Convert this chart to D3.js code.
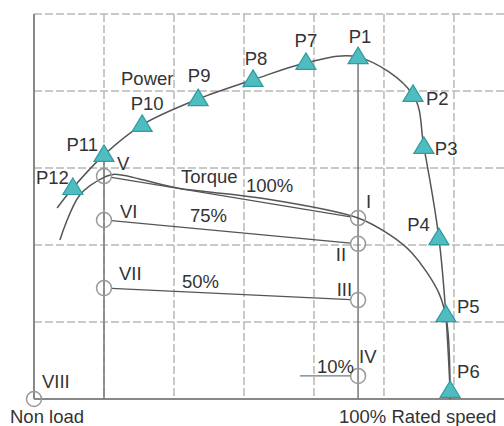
<!DOCTYPE html>
<html>
<head>
<meta charset="utf-8">
<script src="https://cdn.jsdelivr.net/npm/d3@7"></script>
<style>
  body { margin: 0; background: #fff; }
  text { font-family: "Liberation Sans", Arial, sans-serif; font-size: 18.5px; fill: #333; }
</style>
</head>
<body>
<svg id="chart" width="504" height="426"></svg>
<script>
// Grid positions (speed units / percent of full scale)
const gridX = [20, 40, 60, 80, 100, 120];
const gridY = [20, 40, 60, 80, 100];

// Power curve points P1..P12, ordered along the curve
const powerNames = ["", "P12", "P11", "P10", "P9", "P8", "P7", "P1", "P2", "P3", "P4", "P5", "P6"];
const powerX = [6.6, 11.1, 20.0, 30.9, 46.9, 62.6, 77.7, 92.6, 108.3, 111.4, 115.7, 117.7, 118.9];
const powerY = [49.6, 54.8, 63.4, 71.2, 77.9, 82.9, 87.3, 88.8, 79.0, 65.5, 41.8, 21.8, 2.1];

// Torque (100%) curve
const torqueX = [7.4, 13.1, 20.3, 23.1, 40.9, 64.6, 92.6, 101.7, 108, 115.7, 118, 118.9];
const torqueY = [41.3, 53.0, 57.7, 58.4, 54.8, 52.2, 47.0, 42.6, 37.9, 27.5, 19.7, 0];

// Load points (circles)
const loadNames = ["V", "VI", "VII", "VIII", "I", "II", "III", "IV"];
const loadX = [20, 20, 20, 0, 92.6, 92.6, 92.6, 92.6];
const loadY = [57.9, 46.5, 28.8, 0, 47.0, 40.3, 25.7, 6.0];

// Constant load lines: [from, to, label]
const loadLines = [["V", "I", ""], ["VI", "II", "75%"], ["VII", "III", "50%"]];
const tenPctStart = [76, 6.0];

const ratedSpeed = 92.6;

// ---- layout ----
const margin = { top: 14, right: 0, bottom: 27, left: 34 };
const W = 504, H = 426;
const svg = d3.select("#chart");

const x = d3.scaleLinear().domain([0, 134.3]).range([margin.left, W - margin.right]);
const y = d3.scaleLinear().domain([0, 100]).range([H - margin.bottom, margin.top]);

const gridColor = "#b8b8b8";
const lineColor = "#555";
const circleColor = "#999";

// dashed grid
svg.append("g").selectAll("line.gx")
  .data(gridX).enter().append("line")
  .attr("x1", d => x(d)).attr("x2", d => x(d))
  .attr("y1", y(100)).attr("y2", y(0))
  .attr("stroke", gridColor).attr("stroke-width", 1.5).attr("stroke-dasharray", "8,3");
svg.append("g").selectAll("line.gy")
  .data(gridY).enter().append("line")
  .attr("x1", x(0)).attr("x2", W)
  .attr("y1", d => y(d)).attr("y2", d => y(d))
  .attr("stroke", gridColor).attr("stroke-width", 1.5).attr("stroke-dasharray", "8,3");

// axes
svg.append("line").attr("x1", x(0)).attr("x2", x(0)).attr("y1", y(100)).attr("y2", y(0))
  .attr("stroke", "#888").attr("stroke-width", 2);
svg.append("line").attr("x1", x(0)).attr("x2", W).attr("y1", y(0)).attr("y2", y(0))
  .attr("stroke", "#888").attr("stroke-width", 2);

// solid vertical lines: at V column from P11, and at rated speed from P1
svg.append("line").attr("x1", x(20)).attr("x2", x(20)).attr("y1", y(powerY[2])).attr("y2", y(0))
  .attr("stroke", "#777").attr("stroke-width", 1.5);
svg.append("line").attr("x1", x(ratedSpeed)).attr("x2", x(ratedSpeed)).attr("y1", y(powerY[7])).attr("y2", y(0))
  .attr("stroke", "#777").attr("stroke-width", 1.5);

const curve = d3.line().x(d => x(d[0])).y(d => y(d[1])).curve(d3.curveCatmullRom.alpha(0.5));

// torque curve
svg.append("path").datum(torqueX.map((v, i) => [v, torqueY[i]]))
  .attr("d", curve).attr("fill", "none").attr("stroke", lineColor).attr("stroke-width", 1.5);

// power curve
svg.append("path").datum(powerX.map((v, i) => [v, powerY[i]]))
  .attr("d", curve).attr("fill", "none").attr("stroke", lineColor).attr("stroke-width", 1.5);

// load lines between circles (trimmed at circle edge)
const r = 7.5;
const loadPos = name => { const i = loadNames.indexOf(name); return [x(loadX[i]), y(loadY[i])]; };
function trimmed(a, b) {
  const dx = b[0] - a[0], dy = b[1] - a[1], len = Math.hypot(dx, dy);
  return [a[0] + dx / len * r, a[1] + dy / len * r, b[0] - dx / len * r, b[1] - dy / len * r];
}
loadLines.forEach(([f, t]) => {
  const s = trimmed(loadPos(f), loadPos(t));
  svg.append("line").attr("x1", s[0]).attr("y1", s[1]).attr("x2", s[2]).attr("y2", s[3])
    .attr("stroke", lineColor).attr("stroke-width", 1.2);
});
const iv = loadPos("IV");
svg.append("line").attr("x1", x(tenPctStart[0])).attr("y1", y(tenPctStart[1]))
  .attr("x2", iv[0] - r).attr("y2", iv[1]).attr("stroke", "#777").attr("stroke-width", 1.2);

// circles
svg.append("g").selectAll("circle")
  .data(loadNames).enter().append("circle")
  .attr("cx", (d, i) => x(loadX[i])).attr("cy", (d, i) => y(loadY[i])).attr("r", r)
  .attr("fill", "none").attr("stroke", circleColor).attr("stroke-width", 1.5);

// triangles
svg.append("g").selectAll("path.tri")
  .data(powerNames.map((n, i) => ({ n, i })).filter(d => d.n)).enter().append("path")
  .attr("d", "M0,-10L10,6.5L-10,6.5Z")
  .attr("transform", d => `translate(${x(powerX[d.i])},${y(powerY[d.i])})`)
  .attr("fill", "#4fbcc0").attr("stroke", "#2e9ca1").attr("stroke-width", 1.2);

// point labels: offsets in pixels and anchor
const powerLabelOffset = {
  P12: [-4, -4, "end"], P11: [-6, -4, "end"], P10: [5, -15, "middle"], P9: [1, -17, "middle"],
  P8: [3, -15, "middle"], P7: [0, -16, "middle"], P1: [2, -14, "middle"], P2: [13, 10, "start"],
  P3: [11, 8, "start"], P4: [-9, -7, "end"], P5: [11, -2, "start"], P6: [7, -13, "start"]
};
powerNames.forEach((n, i) => {
  if (!n) return;
  const o = powerLabelOffset[n];
  svg.append("text").attr("x", x(powerX[i]) + o[0]).attr("y", y(powerY[i]) + o[1])
    .attr("text-anchor", o[2]).text(n);
});

const loadLabelOffset = {
  V: [13, -6, "start"], VI: [16, -2, "start"], VII: [15, -8, "start"], VIII: [8, -11, "start"],
  I: [8, -10, "start"], II: [-12, 17, "end"], III: [-6, -4, "end"], IV: [1, -13, "start"]
};
loadNames.forEach((n, i) => {
  const o = loadLabelOffset[n];
  svg.append("text").attr("x", x(loadX[i]) + o[0]).attr("y", y(loadY[i]) + o[1])
    .attr("text-anchor", o[2]).text(n);
});

// annotations (pixel positions)
const notes = [
  ["Power", 121, 85], ["Torque", 181, 183], ["100%", 246, 192], ["75%", 190, 222],
  ["50%", 182, 288], ["10%", 317, 373], ["Non load", 10, 423], ["100% Rated speed", 339, 423]
];
svg.append("g").selectAll("text")
  .data(notes).enter().append("text")
  .attr("x", d => d[1]).attr("y", d => d[2]).text(d => d[0]);
</script>
</body>
</html>
